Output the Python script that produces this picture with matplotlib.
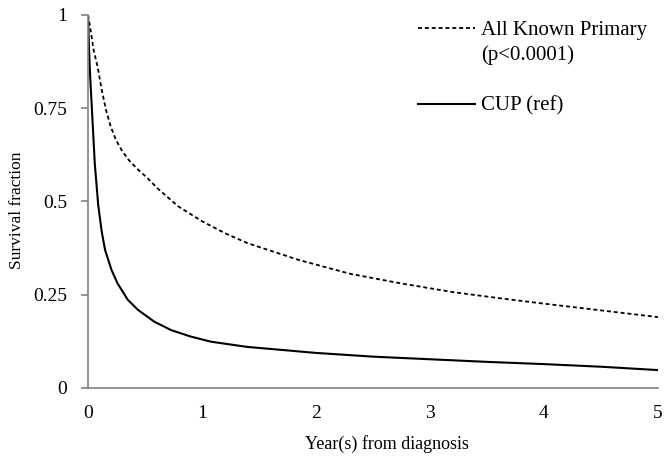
import matplotlib
matplotlib.use("Agg")
import matplotlib.pyplot as plt
from matplotlib.lines import Line2D

plt.rcParams['font.family'] = ['Liberation Serif', 'DejaVu Serif']

# Survival curves
years_known = [0, 0.02, 0.05, 0.085, 0.12, 0.158, 0.2, 0.245, 0.3, 0.36, 0.44, 0.52, 0.61,
               0.79, 1.0, 1.2, 1.4, 1.85, 2.3, 2.75, 3.2, 3.6, 4.0, 4.5, 5.0]
surv_known = [1.0, 0.965, 0.905, 0.86, 0.80, 0.745, 0.70, 0.665, 0.635, 0.61, 0.585, 0.563,
              0.535, 0.487, 0.447, 0.415, 0.388, 0.343, 0.306, 0.28, 0.257, 0.241, 0.226,
              0.208, 0.19]

years_cup = [0, 0.01, 0.02, 0.035, 0.06, 0.09, 0.12, 0.15, 0.207, 0.26, 0.35, 0.44, 0.58,
             0.73, 0.9, 1.08, 1.4, 2.0, 2.5, 3.0, 3.5, 4.0, 4.5, 5.0]
surv_cup = [1.0, 0.9, 0.83, 0.745, 0.6, 0.49, 0.42, 0.37, 0.316, 0.28, 0.236, 0.209, 0.178,
            0.155, 0.138, 0.124, 0.11, 0.094, 0.084, 0.077, 0.07, 0.064, 0.057, 0.048]

x_ticks = [0, 1, 2, 3, 4, 5]
y_ticks = [0, 0.25, 0.5, 0.75, 1]
y_tick_labels = ['0', '0.25', '0.5', '0.75', '1']

fig = plt.figure(figsize=(6.69, 4.63), dpi=100)
ax = fig.add_axes([0.1315, 0.162, 0.852, 0.806])

dash = (0, (2.2, 1.6))
ax.plot(years_known, surv_known, color='black', lw=1.3, linestyle=dash)
ax.plot(years_cup, surv_cup, color='black', lw=1.5)

ax.set_xlim(0, 5)
ax.set_ylim(0, 1)
ax.set_xticks(x_ticks)
ax.set_yticks(y_ticks)
ax.set_yticklabels(y_tick_labels)

for side in ['top', 'right']:
    ax.spines[side].set_visible(False)
for side in ['left', 'bottom']:
    ax.spines[side].set_color('#808080')
    ax.spines[side].set_linewidth(1.2)

ax.tick_params(axis='y', direction='out', length=5, width=1.2, color='#808080',
               labelsize=14, pad=10)
ax.tick_params(axis='x', length=0, labelsize=14, pad=12)

ax.set_xlabel('Year(s) from diagnosis', fontsize=13)
ax.xaxis.set_label_coords(0.525, -0.125)
ax.set_ylabel('Survival fraction', fontsize=12.5)
ax.yaxis.set_label_coords(-0.11, 0.477)

# legend drawn by hand to match the layout
fig.add_artist(Line2D([418 / 669, 475 / 669], [1 - 28 / 463, 1 - 28 / 463],
                      color='black', lw=1.3, linestyle=dash))
fig.text(481 / 669, 1 - 30 / 463, 'All Known Primary', fontsize=15, va='center')
fig.text(481 / 669, 1 - 55 / 463, '(p<0.0001)', fontsize=15, va='center')
fig.add_artist(Line2D([418 / 669, 475 / 669], [1 - 104 / 463, 1 - 104 / 463],
                      color='black', lw=1.5))
fig.text(481 / 669, 1 - 106 / 463, 'CUP (ref)', fontsize=15, va='center')

fig.savefig('out.png', dpi=100)
